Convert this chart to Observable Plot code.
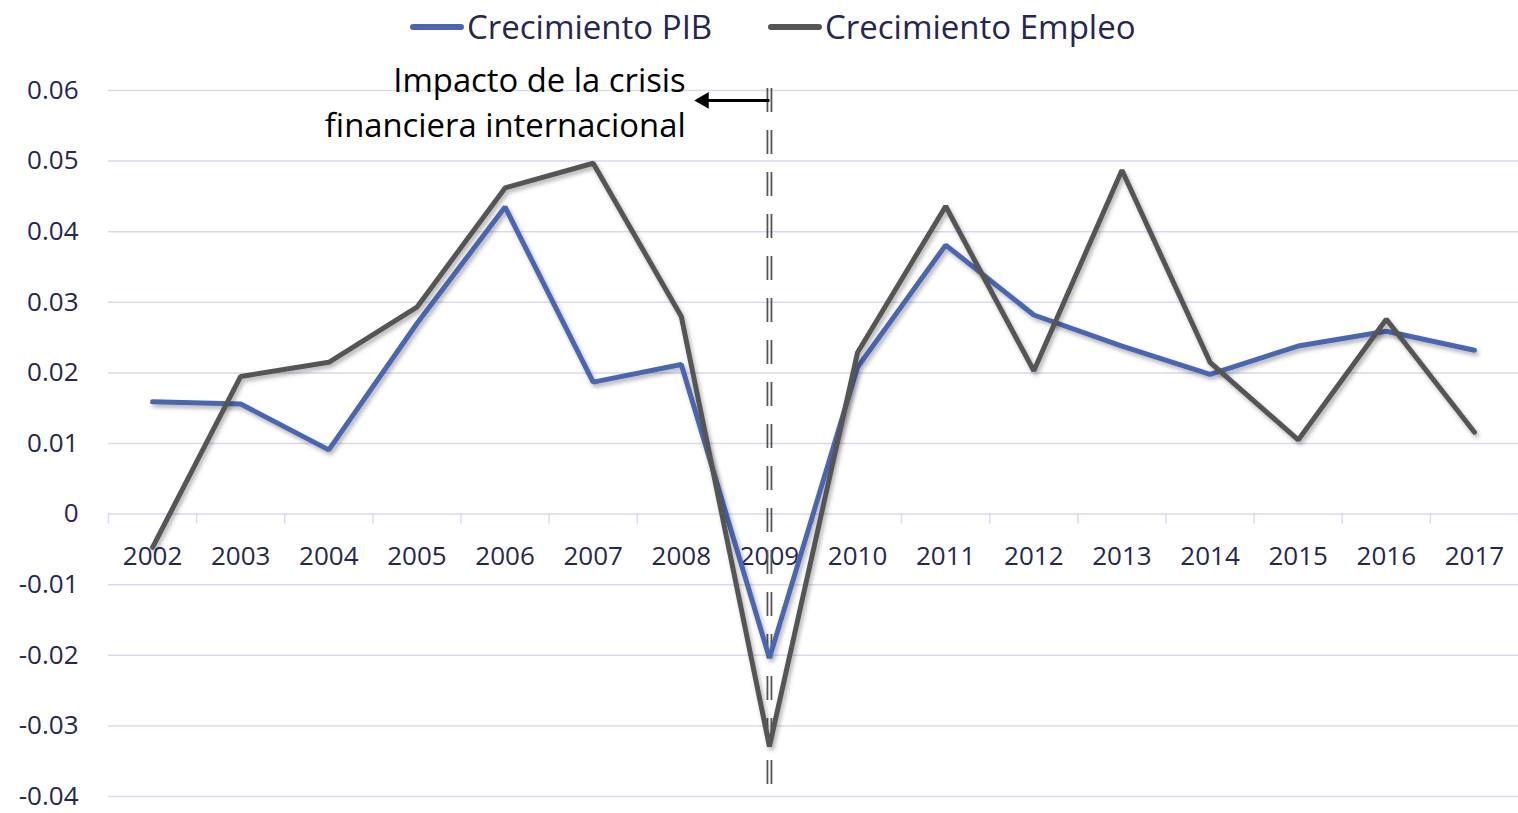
<!DOCTYPE html>
<html>
<head>
<meta charset="utf-8">
<script src="https://cdn.jsdelivr.net/npm/d3@7"></script>
<script src="https://cdn.jsdelivr.net/npm/@observablehq/plot@0.6"></script>
<style>
  html, body { margin: 0; padding: 0; background: #fff; }
  #legend { height: 50px; position: relative; font-family: "Open Sans", sans-serif; font-size: 33px; color: #262650; }
  .item { position: absolute; top: 4px; display: flex; align-items: center; }
  .swatch { width: 54px; height: 6px; border-radius: 3px; margin-right: 3px; }
</style>
</head>
<body>
<div id="legend"></div>
<div id="chart"></div>
<script>
const years = [2002, 2003, 2004, 2005, 2006, 2007, 2008, 2009, 2010, 2011, 2012, 2013, 2014, 2015, 2016, 2017];
const pib =    [0.0159, 0.0156, 0.0091, 0.0270, 0.0435, 0.0187, 0.0212, -0.0204, 0.0208, 0.0381, 0.0282, 0.0238, 0.0198, 0.0238, 0.0259, 0.0232];
const empleo = [-0.0047, 0.0195, 0.0215, 0.0293, 0.0462, 0.0497, 0.0280, -0.0329, 0.0229, 0.0436, 0.0203, 0.0487, 0.0215, 0.0105, 0.0276, 0.0116];
const seriesNames = ["Crecimiento PIB", "Crecimiento Empleo"];
const seriesColors = ["#4a66ae", "#555555"];
const yTicks = [-0.04, -0.03, -0.02, -0.01, 0, 0.01, 0.02, 0.03, 0.04, 0.05, 0.06];
const crisisYear = 2009;
const annotationText = "Impacto de la crisis\nfinanciera internacional";

const data = years.flatMap((y, i) => [
  {year: y, value: pib[i], serie: seriesNames[0]},
  {year: y, value: empleo[i], serie: seriesNames[1]}
]);
const boundaries = [years[0] - 0.5, ...years.map(y => y + 0.5)];
const annot = [{x1: crisisYear, x2: crisisYear - 0.8, y: 0.0586, tx: crisisYear - 0.95}];

// legend
const legend = document.getElementById("legend");
const legendPos = [410, 768];
seriesNames.forEach((n, i) => {
  const d = document.createElement("div");
  d.className = "item";
  d.style.left = legendPos[i] + "px";
  d.innerHTML = `<span class="swatch" style="background:${seriesColors[i]}"></span><span>${n}</span>`;
  legend.appendChild(d);
});

const fontFamily = "'Open Sans', sans-serif";
const textColor = "#262650";
const gridColor = "#d9d9ef";

const chart = Plot.plot({
  width: 1518,
  height: 763,
  marginTop: 40,
  marginBottom: 17,
  marginLeft: 108,
  marginRight: 0,
  style: {fontFamily, fontSize: "26px", color: textColor, background: "white", overflow: "visible"},
  x: {type: "linear", domain: [years[0] - 0.5, years[years.length - 1] + 0.5], axis: null},
  y: {domain: [-0.04, 0.06]},
  color: {domain: seriesNames, range: seriesColors},
  marks: [
    Plot.ruleY(yTicks, {stroke: gridColor, strokeWidth: 1.5}),
    Plot.ruleX(boundaries, {y1: 0, y2: -0.0014, stroke: gridColor, strokeWidth: 1.5}),
    Plot.axisY({ticks: yTicks, tickSize: 0, tickPadding: 30, fontSize: 26,
      tickFormat: d => d === 0 ? "0" : String(+d.toFixed(2))}),
    Plot.text(years, {x: d => d, y: 0, dy: 43, text: d => String(d), fill: textColor, fontSize: 26}),
    Plot.ruleX([crisisYear], {y1: 0.0603, y2: -0.039, dx: -2, stroke: "#555", strokeWidth: 1.8, strokeDasharray: "24,18"}),
    Plot.ruleX([crisisYear], {y1: 0.0603, y2: -0.039, dx: 2, stroke: "#555", strokeWidth: 1.8, strokeDasharray: "24,18"}),
    Plot.line(data, {x: "year", y: "value", z: "serie", stroke: "serie", strokeWidth: 5, strokeLinejoin: "miter", strokeLinecap: "round"}),
    Plot.link(annot, {x1: "x1", x2: d => d.x2 + 0.1, y1: "y", y2: "y", stroke: "black", strokeWidth: 3}),
    Plot.dot(annot, {x: "x2", y: "y", symbol: "triangle2", r: 8, fill: "black", rotate: -90, dx: 5}),
    Plot.text(annot, {x: "tx", y: "y", text: () => annotationText, textAnchor: "end", lineAnchor: "middle", lineHeight: 1.38, fontSize: 32.8, fill: "black"})
  ]
});
document.getElementById("chart").appendChild(chart);

// drop shadow on the series lines
const svg = d3.select(chart);
const defs = svg.insert("defs", ":first-child");
const f = defs.append("filter").attr("id", "shadow").attr("x", "-10%").attr("y", "-10%").attr("width", "120%").attr("height", "120%");
f.append("feDropShadow").attr("dx", 2).attr("dy", 3).attr("stdDeviation", 2).attr("flood-color", "#000").attr("flood-opacity", 0.3);
svg.selectAll("g[aria-label='line'] path").attr("filter", "url(#shadow)");
</script>
</body>
</html>
